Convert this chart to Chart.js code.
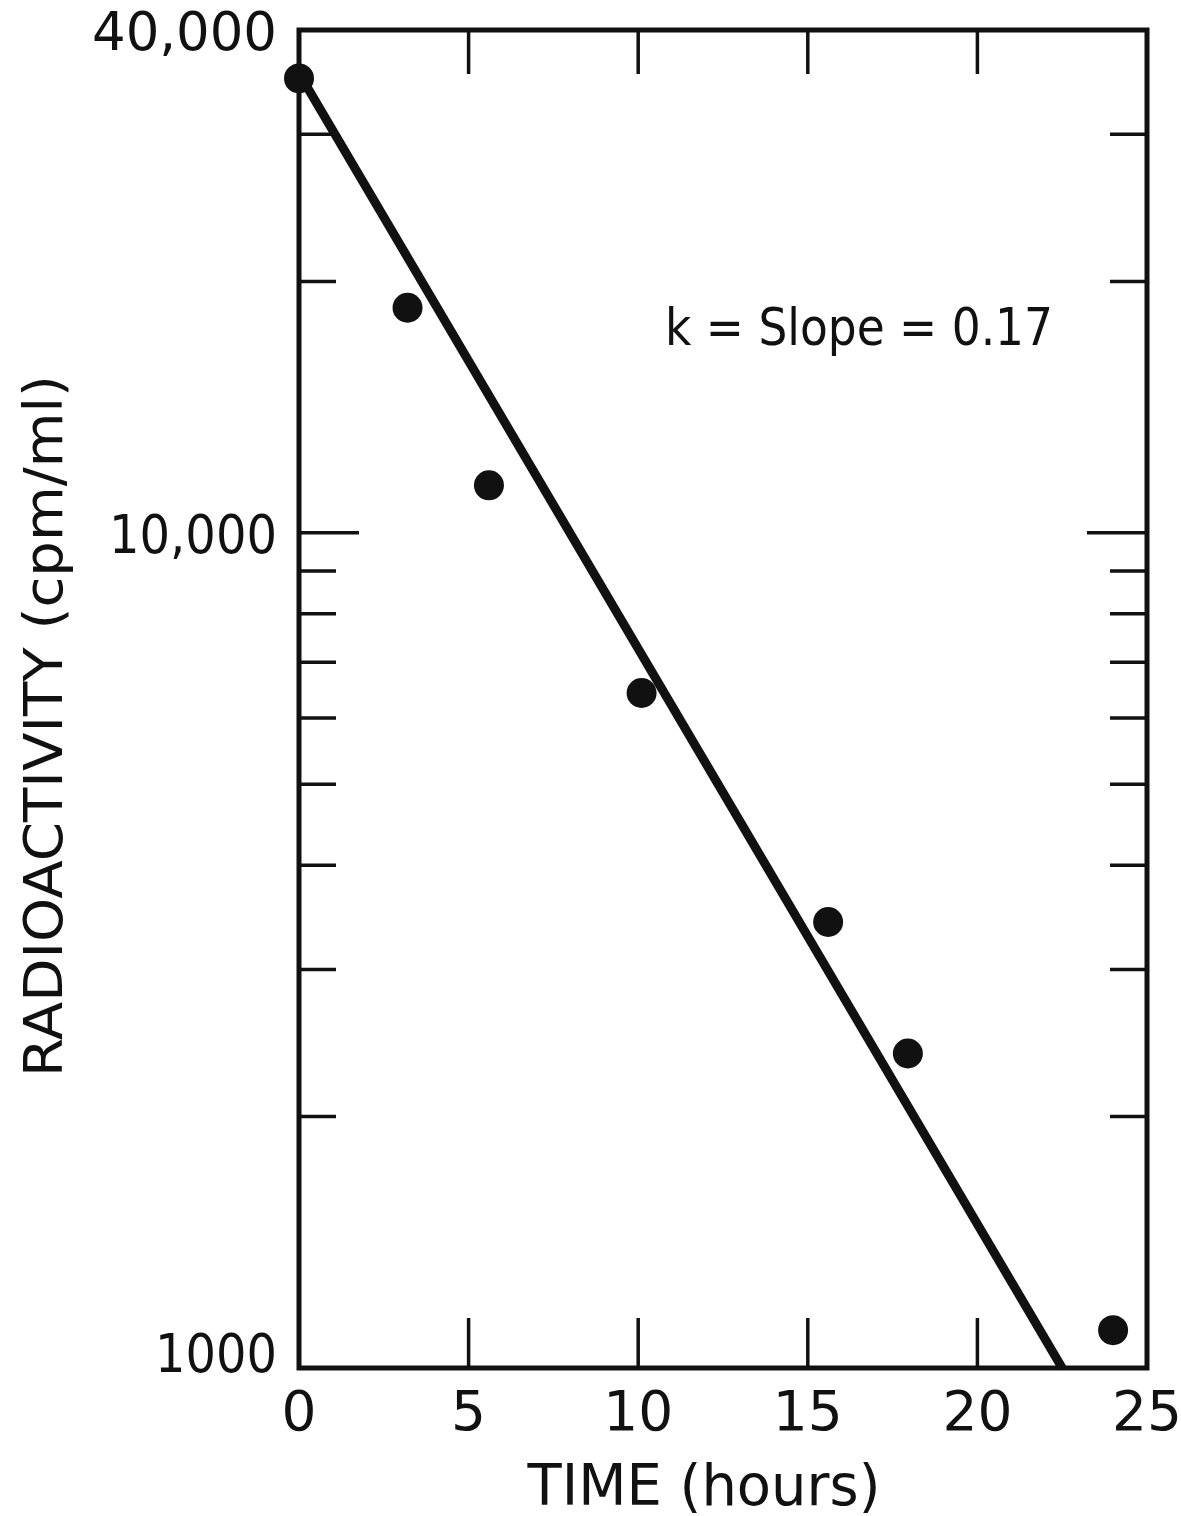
<!DOCTYPE html>
<html>
<head>
<meta charset="utf-8">
<script src="https://cdn.jsdelivr.net/npm/chart.js@4.4.1/dist/chart.umd.min.js"></script>
<style>
html,body{margin:0;padding:0;background:#fff;}
#wrap{width:1181px;height:1516px;position:relative;}
</style>
</head>
<body>
<div id="wrap"><canvas id="c" width="1181" height="1516"></canvas></div>
<script>
// ---- data ----
const timeHours      = [0, 3.2, 5.6, 10.1, 15.6, 17.95, 24.0];
const activityCpm    = [35000, 18600, 11400, 6430, 3420, 2380, 1110];
const fitTimeHours   = [0, 22.5];
const fitActivityCpm = [35500, 1000];
const xTickValues    = [0, 5, 10, 15, 20, 25];
const xTickLabels    = ['0', '5', '10', '15', '20', '25'];
const yMinorTicks    = [2000, 3000, 4000, 5000, 6000, 7000, 8000, 9000, 20000, 30000];
const yMajorTicks    = [10000];
const yLabelValues   = [1000, 10000, 40000];
const yLabelTexts    = ['1000', '10,000', '40,000'];
const xTitleText     = 'TIME (hours)';
const yTitleText     = 'RADIOACTIVITY (cpm/ml)';
const noteText       = 'k = Slope = 0.17';

// ---- style ----
const INK = '#111';
const FONT = '"DejaVu Sans", "Liberation Sans", sans-serif';

function fitText(ctx, text, x, y, width, align) {
  const w = ctx.measureText(text).width;
  const sx = width ? width / w : 1;
  ctx.save();
  ctx.translate(x, y);
  ctx.scale(sx, 1);
  ctx.textAlign = align;
  ctx.fillText(text, 0, 0);
  ctx.restore();
}

const framePlugin = {
  id: 'framePlugin',
  beforeDraw(chart) {
    const c = chart.ctx;
    c.save();
    c.fillStyle = '#fff';
    c.fillRect(0, 0, chart.width, chart.height);
    c.restore();
  },
  beforeDatasetsDraw(chart) {
    const c = chart.ctx, a = chart.chartArea;
    const xs = chart.scales.x, ys = chart.scales.y;
    c.save();
    c.strokeStyle = INK;
    c.lineCap = 'butt';
    c.lineWidth = 3.5;
    const yTicks = yMinorTicks.map(v => [v, 37]).concat(yMajorTicks.map(v => [v, 60]));
    yTicks.forEach(([v, len]) => {
      const p = ys.getPixelForValue(v);
      c.beginPath();
      c.moveTo(a.left, p); c.lineTo(a.left + len, p);
      c.moveTo(a.right, p); c.lineTo(a.right - len, p);
      c.stroke();
    });
    xTickValues.slice(1, -1).forEach(v => {
      const p = xs.getPixelForValue(v);
      c.beginPath();
      c.moveTo(p, a.bottom); c.lineTo(p, a.bottom - 50);
      c.moveTo(p, a.top); c.lineTo(p, a.top + 44);
      c.stroke();
    });
    c.lineWidth = 5;
    c.lineJoin = 'miter';
    c.strokeRect(a.left, a.top, a.right - a.left, a.bottom - a.top);
    c.restore();
  },
  afterDraw(chart) {
    const c = chart.ctx, a = chart.chartArea;
    const xs = chart.scales.x, ys = chart.scales.y;
    c.save();
    c.fillStyle = INK;
    c.textBaseline = 'alphabetic';
    // y tick labels
    c.font = '53px ' + FONT;
    const yLabelWidths = [122, 168, 185];
    yLabelValues.forEach((v, i) => {
      const p = ys.getPixelForValue(v);
      const base = (v === yLabelValues[0]) ? a.bottom + 4 : p + 20;
      fitText(c, yLabelTexts[i], 277, base, yLabelWidths[i], 'right');
    });
    // x tick labels
    c.font = '55px ' + FONT;
    xTickValues.forEach((v, i) => {
      const p = xs.getPixelForValue(v);
      fitText(c, xTickLabels[i], p, 1430, null, 'center');
    });
    // x title
    c.font = '57px ' + FONT;
    fitText(c, xTitleText, 704, 1505, 353, 'center');
    // y title
    c.font = '53px ' + FONT;
    c.save();
    c.translate(62, 726);
    c.rotate(-Math.PI / 2);
    fitText(c, yTitleText, 0, 0, 702, 'center');
    c.restore();
    // annotation
    c.font = '52px ' + FONT;
    fitText(c, noteText, 665, 345, 388, 'left');
    c.restore();
  }
};

new Chart(document.getElementById('c'), {
  data: {
    datasets: [
      {
        type: 'line',
        label: 'fit',
        data: fitTimeHours.map((t, i) => ({ x: t, y: fitActivityCpm[i] })),
        borderColor: INK,
        borderWidth: 9,
        pointRadius: 0,
        fill: false,
        tension: 0,
        clip: false
      },
      {
        type: 'scatter',
        label: 'measured',
        data: timeHours.map((t, i) => ({ x: t, y: activityCpm[i] })),
        backgroundColor: INK,
        borderColor: INK,
        borderWidth: 0,
        pointRadius: 15,
        pointHoverRadius: 15,
        clip: false
      }
    ]
  },
  options: {
    responsive: false,
    animation: false,
    devicePixelRatio: 1,
    layout: { padding: { left: 299, right: 34, top: 30, bottom: 148 } },
    plugins: { legend: { display: false }, tooltip: { enabled: false } },
    events: [],
    scales: {
      x: { type: 'linear', min: 0, max: 25, display: false },
      y: { type: 'logarithmic', min: 1000, max: 40000, display: false }
    }
  },
  plugins: [framePlugin]
});
</script>
</body>
</html>
